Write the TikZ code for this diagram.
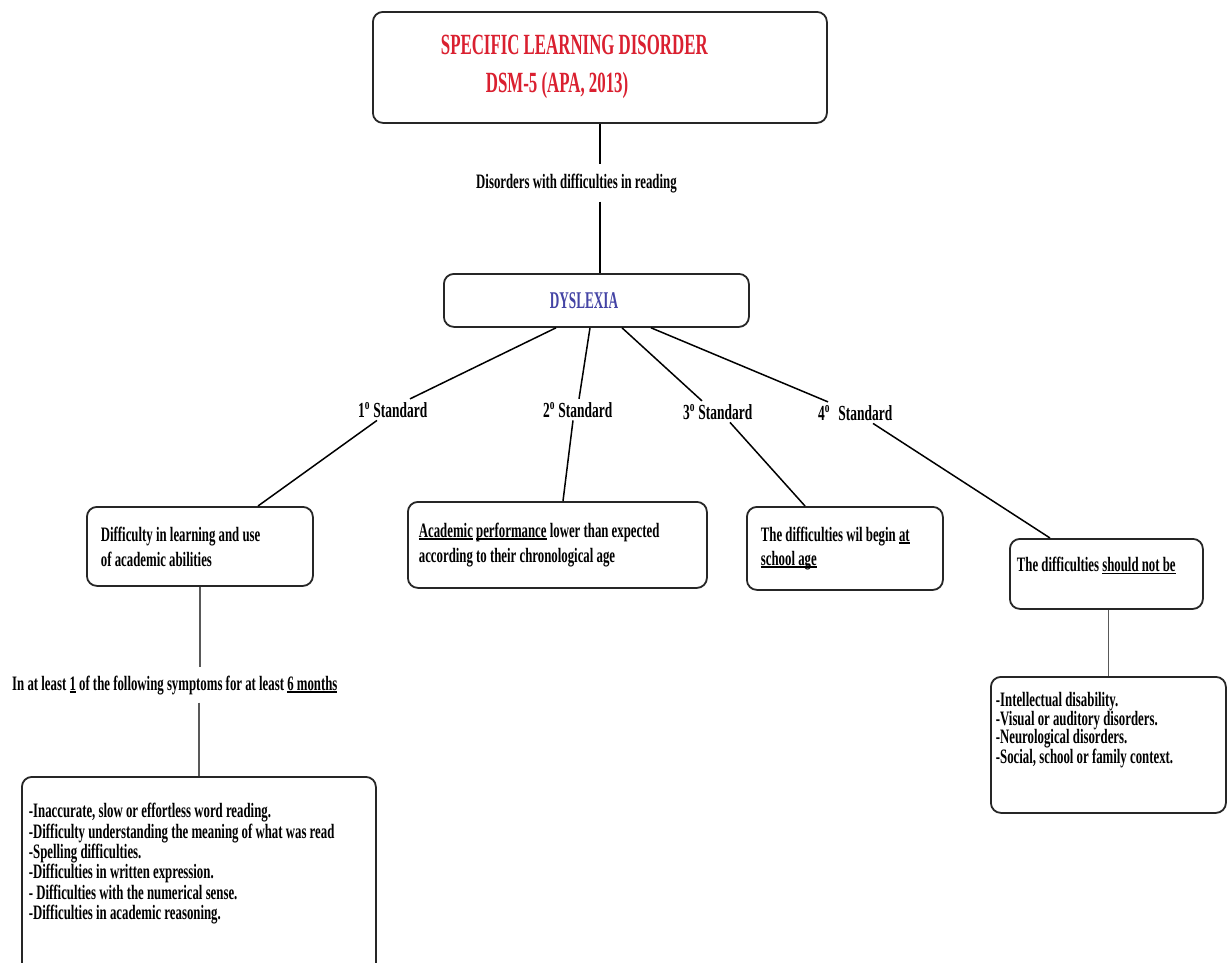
\documentclass[tikz,border=0pt]{standalone}
\usepackage{fontspec}
\setmainfont{Liberation Serif}
\newfontfamily\ttlfont{Liberation Serif}[FakeStretch=0.575]
\newfontfamily\bdyfont{Liberation Serif}[FakeStretch=0.625]
\newfontfamily\dysfont{Liberation Serif}[FakeStretch=0.55]
\usetikzlibrary{calc}
\definecolor{ttlred}{RGB}{218,32,48}
\definecolor{dysblue}{RGB}{68,68,165}
\newsavebox\ulbox
\newcommand\myul[1]{\leavevmode\sbox\ulbox{#1}\rlap{\rule[-2.8pt]{\wd\ulbox}{1.8pt}}\usebox\ulbox}
\tikzset{
  box/.style={draw=black!85, line width=1.8pt, rounded corners=10pt, anchor=north west, align=flush left,
    font=\bdyfont\bfseries\fontsize{20.5pt}{25pt}\selectfont},
  lbl/.style={inner xsep=0pt, inner ysep=3pt, anchor=base west,
    font=\bdyfont\bfseries\fontsize{21.5pt}{24pt}\selectfont},
  midlbl/.style={inner xsep=0pt, anchor=base west,
    font=\bdyfont\bfseries\fontsize{20.5pt}{24pt}\selectfont},
  conn/.style={line width=1.5pt, black},
  vconn/.style={line width=1.5pt, black!65},
}
\begin{document}
\begin{tikzpicture}[x=1pt, y=-1pt]
\useasboundingbox (0,0) rectangle (1227,962);
\fill[white] (0,0) rectangle (1227,962);
\clip (0,0) rectangle (1227,962);

% boxes
\node[box, minimum width=454pt, minimum height=111pt, text width=318pt, inner xsep=68pt,
  font=\ttlfont\bfseries\fontsize{29.3pt}{38pt}\selectfont, text=ttlred] (top) at (372,11)
  {SPECIFIC LEARNING DISORDER\\\hspace*{45pt}DSM-5 (APA, 2013)};
\node[box, minimum width=305pt, minimum height=53pt, text width=93pt, inner xsep=106pt,
  font=\dysfont\bfseries\fontsize{24pt}{28pt}\selectfont, text=dysblue] (dys) at (443,273) {DYSLEXIA};
\node[box, minimum width=226pt, minimum height=79pt, text width=198pt, inner xsep=14pt] (b1) at (86,506)
  {Difficulty in learning and use\\of academic abilities};
\node[box, minimum width=299pt, minimum height=86pt, text width=277pt, inner xsep=11pt] (b2) at (407,501)
  {\myul{Academic} \myul{performance} lower than expected\\according to their chronological age};
\node[box, minimum width=196pt, minimum height=83pt, text width=168pt, inner xsep=14pt,
  font=\bdyfont\bfseries\fontsize{20.5pt}{24pt}\selectfont] (b3) at (746,506)
  {The difficulties wil begin \myul{at}\\\myul{school age}};
\node[box, minimum width=193pt, minimum height=70pt, text width=179pt, inner xsep=7pt] (b4) at (1009,538)
  {The difficulties \myul{should not be}\rule[-19pt]{0pt}{19pt}};
\node[box, minimum width=235pt, minimum height=136pt, text width=225pt, inner xsep=5pt,
  font=\bdyfont\bfseries\fontsize{20.5pt}{18.8pt}\selectfont] (b6) at (990,676)
  {-Intellectual disability.\\-Visual or auditory disorders.\\-Neurological disorders.\\-Social, school or family context.\rule[-34pt]{0pt}{34pt}};
\node[box, minimum width=354pt, minimum height=214pt, text width=340pt, inner xsep=7pt,
  font=\bdyfont\bfseries\fontsize{20.5pt}{20.3pt}\selectfont] (b5) at (21,776)
  {-Inaccurate, slow or effortless word reading.\\
   -Difficulty understanding the meaning of what was read\\
   -Spelling difficulties.\\
   -Difficulties in written expression.\\
   - Difficulties with the numerical sense.\\
   -Difficulties in academic reasoning.\rule[-45pt]{0pt}{45pt}};

% labels
\node[midlbl, inner ysep=9pt] (dis) at (476,188) {Disorders with difficulties in reading};
\node[lbl] (lab1) at (358,417) {1\textsuperscript{o} Standard};
\node[lbl] (lab2) at (543,417) {2\textsuperscript{o} Standard};
\node[lbl] (lab3) at (683,419) {3\textsuperscript{o} Standard};
\node[lbl] (lab4) at (818,420) {4\textsuperscript{o}\hspace{5pt} Standard};
\node[midlbl, inner ysep=8pt] (sym) at (12,690)
  {In at least \myul{1} of the following symptoms for at least \myul{6 months}};

% connectors
\draw[conn] (top.south) -- (top.south |- dis.north);
\draw[conn] (top.south |- dis.south) -- (top.south |- dys.north);
\draw[conn] ($(dys.south west)+(113,0)$) -- ($(lab1.north west)+(52,0)$);
\draw[conn] ($(lab1.south west)+(19,0)$) -- ($(b1.north west)+(172,0)$);
\draw[conn] ($(dys.south west)+(147,0)$) -- ($(lab2.north west)+(36,0)$);
\draw[conn] ($(lab2.south west)+(30,0)$) -- ($(b2.north west)+(156,0)$);
\draw[conn] ($(dys.south west)+(179,0)$) -- ($(lab3.north west)+(19,0)$);
\draw[conn] ($(lab3.south west)+(47,0)$) -- ($(b3.north west)+(59,0)$);
\draw[conn] ($(dys.south west)+(208,0)$) -- ($(lab4.north west)+(10,0)$);
\draw[conn] ($(lab4.south west)+(55,0)$) -- ($(b4.north west)+(41,0)$);
\draw[vconn] (b1.south) -- (b1.south |- sym.north);
\draw[vconn] (b5.north |- sym.south) -- (b5.north);
\draw[vconn] (b6.north |- b4.south) -- (b6.north);
\end{tikzpicture}
\end{document}
